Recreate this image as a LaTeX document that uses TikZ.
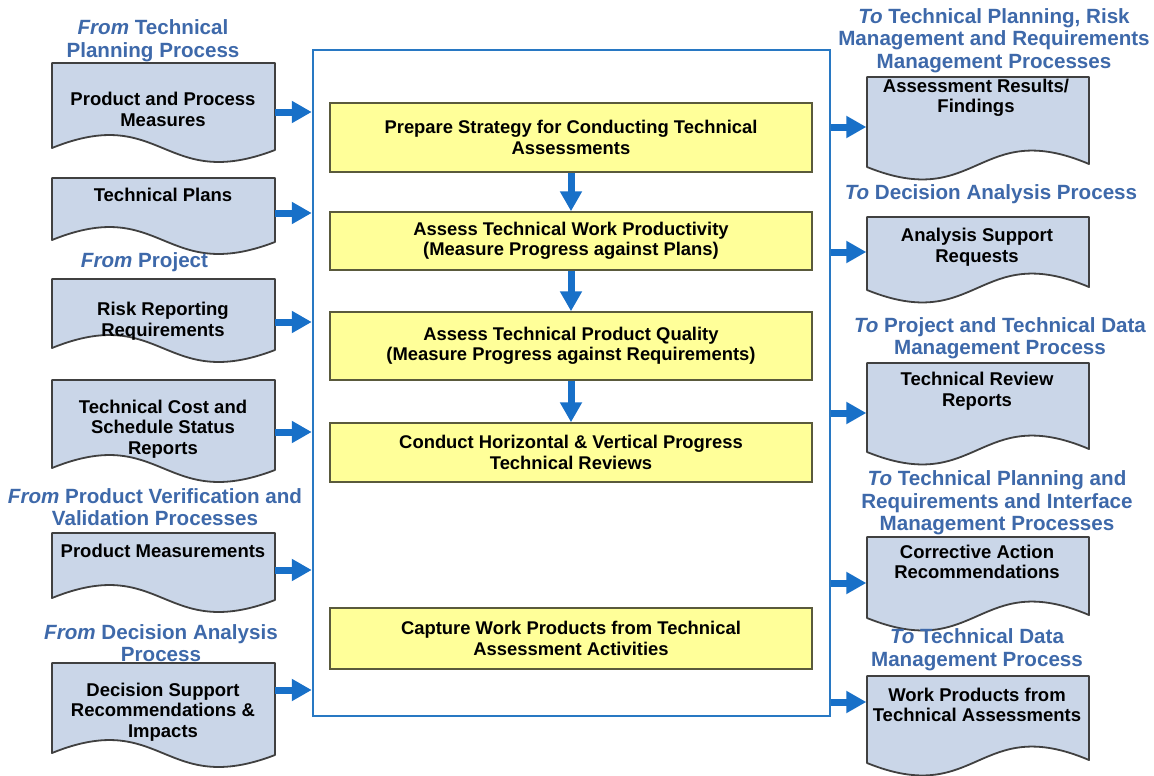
\documentclass[tikz,border=0pt]{standalone}
\usepackage{fontspec}
\setmainfont{Liberation Sans}
\usetikzlibrary{arrows.meta}
\definecolor{docfill}{RGB}{202,214,232}
\definecolor{docdraw}{RGB}{64,64,64}
\definecolor{yfill}{RGB}{255,255,153}
\definecolor{ydraw}{RGB}{90,90,60}
\definecolor{arrblue}{RGB}{24,112,200}
\definecolor{boxblue}{RGB}{40,120,195}
\definecolor{lblblue}{RGB}{62,105,170}
\tikzset{
 docline/.style={draw=docdraw, fill=docfill, line width=1.8pt, line join=round},
 docarea/.style={rectangle, inner sep=0pt, minimum width=223pt},
 doctext/.style={align=center, font=\fontsize{18.5}{20.5}\selectfont\bfseries, text=black},
 procbox/.style={draw=ydraw, fill=yfill, line width=1.5pt, minimum width=482pt, align=center, font=\fontsize{18.4}{20.5}\selectfont\bfseries},
 lbl/.style={align=center, text=lblblue, font=\fontsize{20.6}{22.5}\selectfont\bfseries},
 flow/.style={draw=arrblue, line width=7pt, -{Triangle[length=20pt,width=21pt]}},
 mainbox/.style={draw=boxblue, line width=2.5pt, minimum width=517pt, minimum height=666pt, inner sep=0pt},
}
\newcommand\ldoc[3]{%
 \filldraw[docline] (52,#2) -- (275,#2) -- (275,{#3+2}) .. controls (163,{#3+45}) and (163,{#3-45}) .. (52,#3) -- cycle;
 \node[docarea, minimum height={(#3-#2)*1pt}] (#1) at (163.5,{(#2+#3)/2}) {};}
\newcommand\rdoc[3]{%
 \filldraw[docline] (867,#2) -- (1089,#2) -- (1089,{#3-3}) .. controls (978,{#3-50}) and (978,{#3+45}) .. (867,#3) -- cycle;
 \node[docarea, minimum height={(#3-#2)*1pt}] (#1) at (978,{(#2+#3)/2}) {};}
\begin{document}
\begin{tikzpicture}[x=1pt,y=-1pt]
\useasboundingbox[fill=white] (0,0) rectangle (1154,776);
% main process box
\node[mainbox] (main) at (571.5,383) {};
% process steps
\node[procbox, minimum height=69pt] (b1) at (571,137.5) {Prepare Strategy for Conducting Technical\\Assessments};
\node[procbox, minimum height=58pt] (b2) at (571,241) {Assess Technical Work Productivity\\(Measure Progress against Plans)};
\node[procbox, minimum height=68pt] (b3) at (571,346) {Assess Technical Product Quality\\(Measure Progress against Requirements)};
\node[procbox, minimum height=59pt] (b4) at (571,452.5) {Conduct Horizontal \& Vertical Progress\\Technical Reviews};
\node[procbox, minimum height=61pt] (b5) at (571,638.5) {Capture Work Products from Technical\\Assessment Activities};
\draw[flow] (b1) -- (b2);
\draw[flow] (b2) -- (b3);
\draw[flow] (b3) -- (b4);
% left documents
\ldoc{d1}{63}{148}
\ldoc{d2}{178}{240}
\ldoc{d3}{279}{348}
\ldoc{d4}{380}{468}
\ldoc{d5}{533}{598}
\ldoc{d6}{663}{753}
\node[doctext] (d1t) at (163,109.5) {Product and Process\\Measures};
\node[doctext] (d2t) at (163,195) {Technical Plans};
\node[doctext] (d3t) at (163,321) {Risk Reporting\\Requirements};
\node[doctext] (d4t) at (163,429) {Technical Cost and\\Schedule Status\\Reports};
\node[doctext] (d5t) at (163,551) {Product Measurements};
\node[doctext] (d6t) at (163,712) {Decision Support\\Recommendations \&\\Impacts};
% right documents
\rdoc{r1}{77}{167}
\rdoc{r2}{217}{290}
\rdoc{r3}{363}{452}
\rdoc{r4}{537}{618}
\rdoc{r5}{676}{763}
\node[doctext] (r1t) at (976,98) {Assessment Results/\\Findings};
\node[doctext] (r2t) at (977,247) {Analysis Support\\Requests};
\node[doctext] (r3t) at (977,391) {Technical Review\\Reports};
\node[doctext] (r4t) at (977,562) {Corrective Action\\Recommendations};
\node[doctext] (r5t) at (977,705) {Work Products from\\Technical Assessments};
% labels
\node[lbl] (l1) at (153,40.5) {\textit{From} Technical\\Planning Process};
\node[lbl] (l2) at (144.5,262) {\textit{From} Project};
\node[lbl] (l3) at (155,507) {\textit{From} Product Verification and\\Validation Processes};
\node[lbl] (l4) at (161,643) {\textit{From} Decision Analysis\\Process};
\node[lbl] (rl1) at (994,40.5) {\textit{To} Technical Planning, Risk\\Management and Requirements\\Management Processes};
\node[lbl] (rl2) at (991,194) {\textit{To} Decision Analysis Process};
\node[lbl] (rl3) at (1000,338) {\textit{To} Project and Technical Data\\Management Process};
\node[lbl] (rl4) at (997,503) {\textit{To} Technical Planning and\\Requirements and Interface\\Management Processes};
\node[lbl] (rl5) at (977,649.5) {\textit{To} Technical Data\\Management Process};
% input arrows
\draw[flow] (d1.east |- 0,112) -- (main.west |- 0,112);
\draw[flow] (d2.east |- 0,213) -- (main.west |- 0,213);
\draw[flow] (d3.east |- 0,322) -- (main.west |- 0,322);
\draw[flow] (d4.east |- 0,432) -- (main.west |- 0,432);
\draw[flow] (d5.east |- 0,570) -- (main.west |- 0,570);
\draw[flow] (d6.east |- 0,690) -- (main.west |- 0,690);
% output arrows
\draw[flow] (main.east |- 0,127) -- (r1.west |- 0,127);
\draw[flow] (main.east |- 0,252) -- (r2.west |- 0,252);
\draw[flow] (main.east |- 0,413) -- (r3.west |- 0,413);
\draw[flow] (main.east |- 0,583) -- (r4.west |- 0,583);
\draw[flow] (main.east |- 0,702) -- (r5.west |- 0,702);
\end{tikzpicture}
\end{document}
